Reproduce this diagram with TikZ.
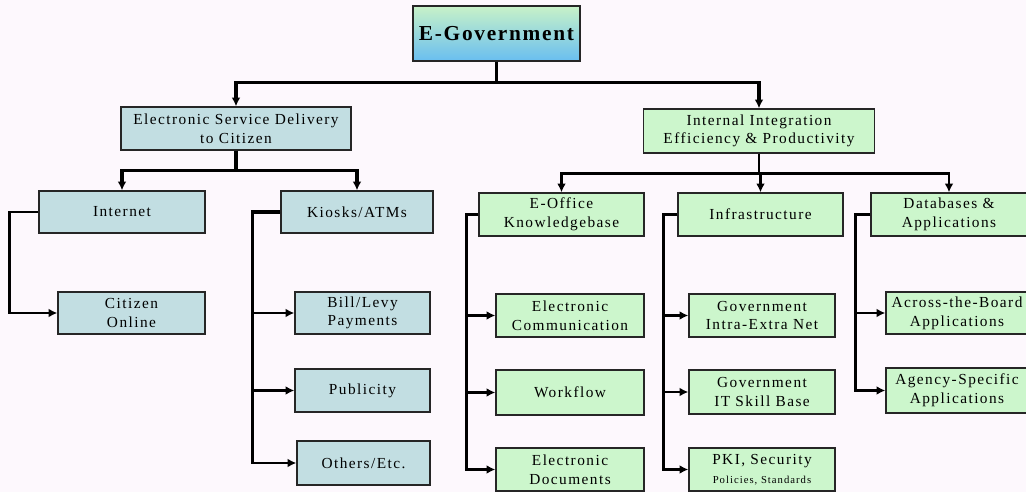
\documentclass[tikz,border=0pt]{standalone}
\usepackage{fontspec}
\setmainfont{Liberation Serif}[LetterSpace=9.5]
\usetikzlibrary{arrows.meta}
\definecolor{bgc}{RGB}{253,248,253}
\definecolor{bluebox}{RGB}{194,222,226}
\definecolor{greenbox}{RGB}{204,246,204}
\definecolor{gtop}{RGB}{200,242,200}
\definecolor{gbot}{RGB}{105,190,240}
\begin{document}
\begin{tikzpicture}[x=0.75pt,y=-0.75pt,
  box/.style n args={2}{draw=black!85, line width=1pt, inner sep=0pt, align=center,
     minimum width=#1*0.75pt, minimum height=#2*0.75pt,
     font=\fontsize{11.5}{14}\selectfont},
  bbox/.style n args={2}{box={#1}{#2}, fill=bluebox},
  gbox/.style n args={2}{box={#1}{#2}, fill=greenbox},
  bar/.style={draw=black, line width=2.3pt},
  sub/.style={draw=black, line width=2pt},
  arr/.style={-{Latex[length=6.5pt,width=6.5pt]}}
]
\fill[bgc] (0,0) rectangle (1026,492);
\useasboundingbox (0,0) rectangle (1026,492);

% top
\node[box={167}{55}, top color=gtop, bottom color=gbot, font=\fontsize{16}{18}\bfseries\addfontfeature{LetterSpace=8}] (egov) at (496.5,33.5) {E-Government};

% level 1
\node[bbox={230}{43}] (esd) at (236,128.5) {Electronic Service Delivery\\to Citizen};
\node[gbox={231}{44}] (iie) at (759,131) {Internal Integration\\Efficiency \& Productivity};

% level 2 left
\node[bbox={166}{42}] (internet) at (122,212) {Internet};
\node[bbox={152}{42}] (kiosk) at (357,212) {Kiosks/ATMs};

% level 2 right
\node[gbox={165}{43}] (eoffice) at (561.5,214.5) {E-Office\\Knowledgebase};
\node[gbox={165}{43}] (infra) at (760.5,214.5) {Infrastructure};
\node[gbox={156}{43}] (db) at (949,214.5) {Databases \&\\Applications};

% level 3 left
\node[bbox={147}{42}] (citizen) at (131.5,313) {Citizen\\Online};
\node[bbox={135}{42}] (bill) at (362.5,313) {Bill/Levy\\Payments};
\node[bbox={135}{43}] (publicity) at (362.5,390.5) {Publicity};
\node[bbox={133}{44}] (others) at (363.5,463) {Others/Etc.};

% level 3 right
\node[gbox={148}{43}] (ec) at (570,315.5) {Electronic\\Communication};
\node[gbox={148}{45}] (wf) at (570,392.5) {Workflow};
\node[gbox={148}{43}] (ed) at (570,469.5) {Electronic\\Documents};
\node[gbox={146}{43}] (gin) at (762,315.5) {Government\\Intra-Extra Net};
\node[gbox={146}{44}] (git) at (762,392) {Government\\IT Skill Base};
\node[gbox={146}{43}] (pki) at (762,469.5) {PKI, Security\\{\fontsize{8}{9}\selectfont Policies, Standards}};
\node[gbox={142}{42}] (atb) at (957,313) {Across-the-Board\\Applications};
\node[gbox={142}{45}] (asa) at (957,390.5) {Agency-Specific\\Applications};

% connectors from top
\draw[bar,arr] (egov.south) -- ++(0,21) -| (esd.north);
\draw[bar,arr] (egov.south) -- ++(0,21) -| (iie.north);
\draw[bar,arr] (esd.south) -- ++(0,20) -| (internet.north);
\draw[bar,arr] (esd.south) -- ++(0,20) -| (kiosk.north);
\draw[sub,arr] (iie.south) -- ++(0,20) -| (eoffice.north);
\draw[sub,arr] (iie.south) -- ++(0,20) -| (infra.north);
\draw[sub,arr] (iie.south) -- ++(0,20) -| (db.north);

% side trees
\draw[sub,arr] (internet.west) -- ++(-29,0) |- (citizen.west);

\draw[sub,arr] (kiosk.west) -- ++(-28,0) |- (bill.west);
\draw[bar,arr] (kiosk.west) -- ++(-28,0) |- (publicity.west);
\draw[sub,arr] (kiosk.west) -- ++(-28,0) |- (others.west);

\draw[sub,arr] (eoffice.west) -- ++(-12,0) |- (ec.west);
\draw[sub,arr] (eoffice.west) -- ++(-12,0) |- (wf.west);
\draw[sub,arr] (eoffice.west) -- ++(-12,0) |- (ed.west);

\draw[sub,arr] (infra.west) -- ++(-14,0) |- (gin.west);
\draw[sub,arr] (infra.west) -- ++(-14,0) |- (git.west);
\draw[sub,arr] (infra.west) -- ++(-14,0) |- (pki.west);

\draw[sub,arr] (db.west) -- ++(-15,0) |- (atb.west);
\draw[sub,arr] (db.west) -- ++(-15,0) |- (asa.west);
\end{tikzpicture}
\end{document}
